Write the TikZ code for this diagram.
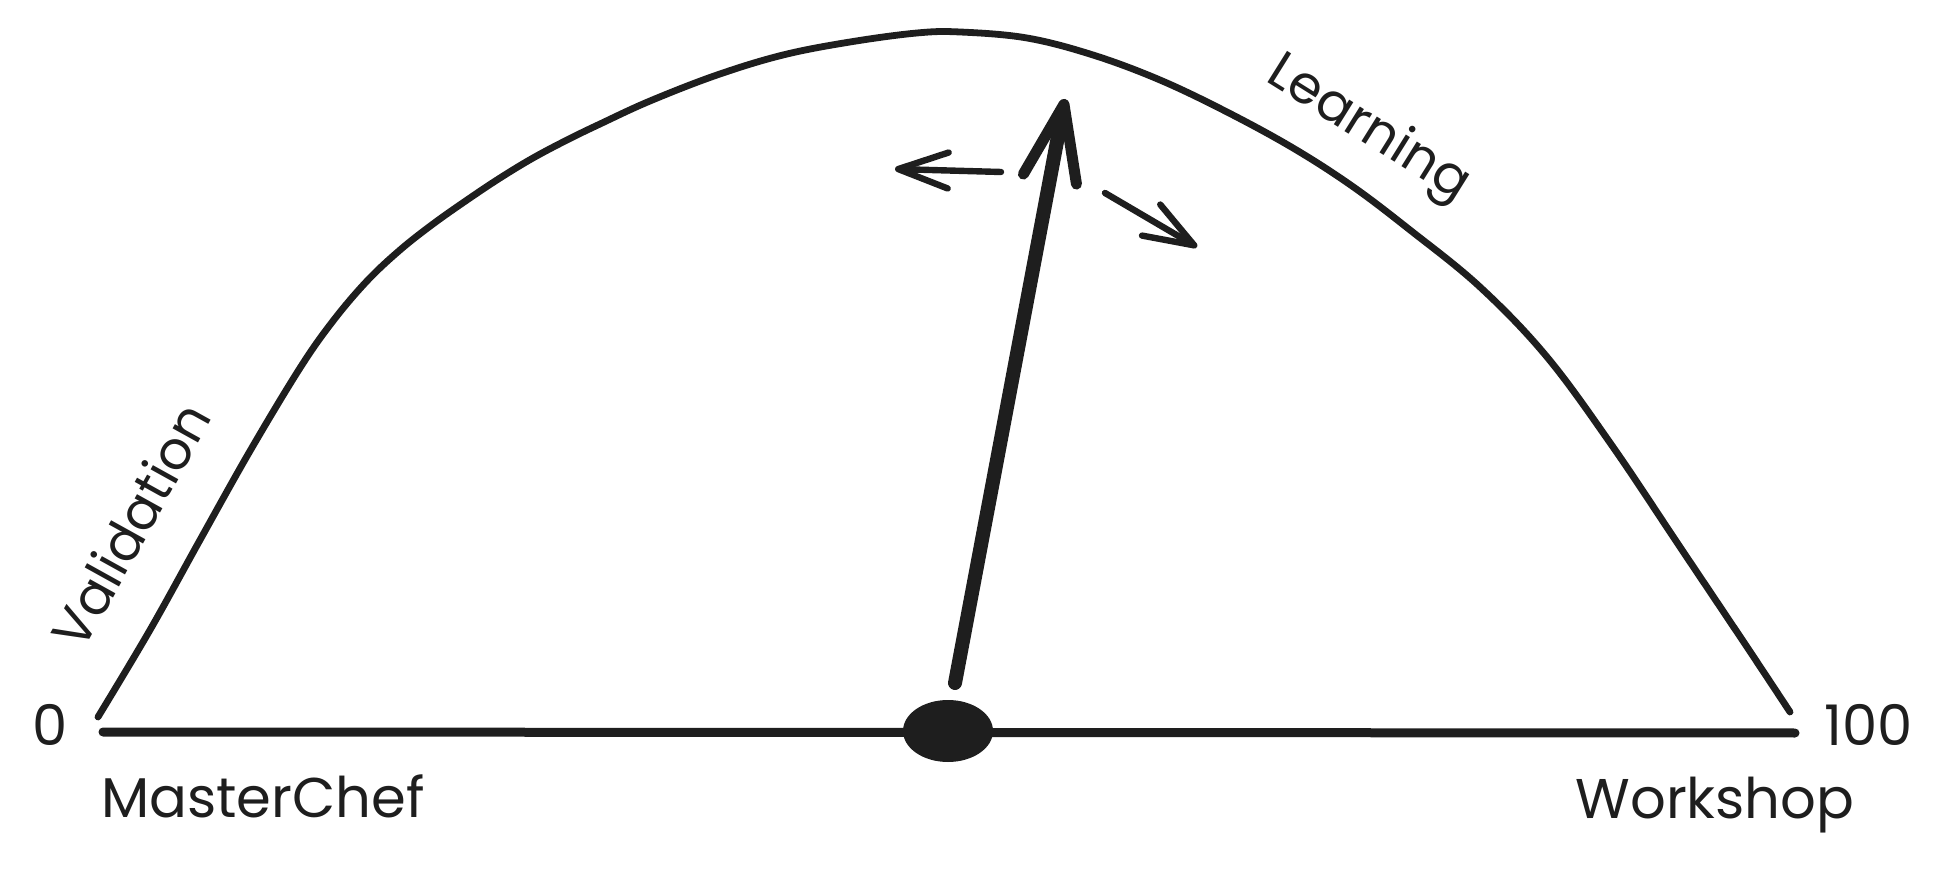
\documentclass[tikz,border=0pt]{standalone}
\usepackage{fontspec}
\setmainfont{Poppins}
\usetikzlibrary{arrows.meta,shapes.geometric}
\definecolor{ink}{HTML}{1E1E1E}

\begin{document}
\begin{tikzpicture}
                \tikzset{x=0.5pt, y=-0.5pt}
                \tikzstyle{lbl}=[text=ink, font=\fontsize{28}{34}\selectfont, inner sep=0pt]
                \tikzstyle{slant}=[lbl, font=\fontsize{26.5}{32}\selectfont]
                \tikzstyle{ink line}=[draw=ink, line cap=round, line join=round]
                \tikzstyle{hump}=[ink line, line width=3.4pt]
                \tikzstyle{axis}=[ink line, line width=4.5pt]
                \tikzstyle{needle}=[ink line, line width=7pt, -{Straight Barb[length=38pt, width=27pt, line width=5.5pt, round]}]
                \tikzstyle{swing}=[ink line, line width=3.2pt, -{Straight Barb[length=25pt, width=18pt, round]}]
                \tikzstyle{dot}=[ellipse, fill=ink, minimum width=45pt, minimum height=31pt, inner sep=0pt]

                \useasboundingbox (0,0) rectangle (1953,870);

                \coordinate (ax0)   at (103,732);
                \coordinate (ax1)   at (1795,733);
                \coordinate (hl)    at (98,717);
                \coordinate (hr)    at (1790,712);
                \coordinate (base)  at (955,683);
                \coordinate (tip)   at (1065,99);
                \coordinate (ls0)   at (1001,172);
                \coordinate (ls1)   at (895,169);
                \coordinate (rs0)   at (1105,193);
                \coordinate (rs1)   at (1197,247);

                % the hump
                \draw [hump] plot[smooth, tension=0.6] coordinates {(hl) (150,630) (200,540) (250,451) (300,368) (333,321) (367,281) (400,250) (433,224) (467,200) (500,178) (533,158) (567,140) (600,124) (650,101) (717,75) (783,55) (850,42) (917,33) (960,32) (1027,38) (1093,55) (1160,80) (1227,112) (1293,148) (1352,186) (1410,230) (1480,287) (1547,357) (1613,447) (1680,547) (1747,647) (hr)};

                % scale and pivot
                \draw [axis]        (ax0) -- (ax1);
                \draw (948,731)     node[dot]   (pivot) {};

                \draw [needle]      (base) -- (tip);
                \draw [swing]       (ls0) -- (ls1);
                \draw [swing]       (rs0) -- (rs1);

                \draw (50,745)      node[lbl, anchor=base]                (zero)       {0};
                \draw (1869,745)    node[lbl, anchor=base]                (hundred)    {100};
                \draw (263,817)     node[lbl, anchor=base]                (masterchef) {MasterChef};
                \draw (1715,818)    node[lbl, anchor=base]                (workshop)   {Workshop};
                \draw (148,535)     node[slant, anchor=base, rotate=61]   (validation) {Validation};
                \draw (1361,141)    node[slant, anchor=base, rotate=-32]  (learning)   {Learning};
\end{tikzpicture}
\end{document}
